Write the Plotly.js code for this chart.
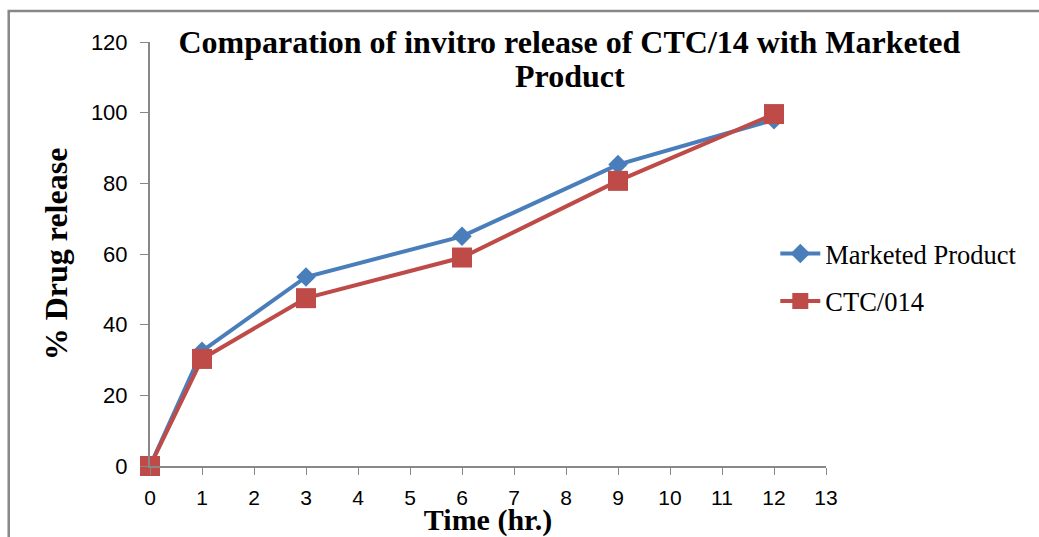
<!DOCTYPE html>
<html>
<head>
<meta charset="utf-8">
<script src="https://cdn.plot.ly/plotly-3.0.1.min.js"></script>
<style>
  html, body { margin: 0; padding: 0; background: #fff; }
  #chart { width: 1039px; height: 537px; }
</style>
</head>
<body>
<div id="chart"></div>
<script>
// Sampling times (hours)
const timeHr = [0, 1, 3, 6, 9, 12];
// Cumulative % drug released
const marketedProduct = [0, 32.5, 53.5, 65, 85.3, 98];
const ctc014 = [0, 30.3, 47.5, 59, 80.7, 99.6];

const seriesNames = ['Marketed Product', 'CTC/014'];
const xTicks = [0,1,2,3,4,5,6,7,8,9,10,11,12,13];
const yTicks = [0,20,40,60,80,100,120];

const blue = '#4a7ebb';
const red = '#be4b48';

const traces = [
  {
    x: timeHr, y: marketedProduct, name: seriesNames[0],
    type: 'scatter', mode: 'lines+markers', legendgroup: 'a', cliponaxis: false,
    line: { color: blue, width: 4 },
    marker: { symbol: 'diamond', size: 15, color: blue }
  },
  {
    x: timeHr, y: ctc014, name: seriesNames[1],
    type: 'scatter', mode: 'lines+markers', legendgroup: 'b', cliponaxis: false,
    line: { color: red, width: 4 },
    marker: { symbol: 'square', size: 20, color: red }
  }
];

const serif = 'Liberation Serif, Times New Roman, serif';
const sans = 'Liberation Sans, Arial, sans-serif';

const layout = {
  width: 1039, height: 537,
  margin: { l: 150, r: 213, t: 42, b: 71, pad: 0 },
  paper_bgcolor: '#fff', plot_bgcolor: '#fff',
  showlegend: true,
  title: {
    text: '<b>Comparation of invitro release of CTC/14 with Marketed</b>',
    font: { family: serif, size: 32, color: '#000' },
    x: 0.548, xanchor: 'center', yref: 'container', y: 0.922, yanchor: 'middle'
  },
  annotations: [
    {
      text: '<b>Product</b>', xref: 'paper', yref: 'paper',
      x: 0.621, y: 0.92, xanchor: 'center', yanchor: 'middle', showarrow: false,
      font: { family: serif, size: 32, color: '#000' }
    }
  ],
  xaxis: {
    range: [0, 13], tickvals: xTicks, ticktext: xTicks.map(String),
    showgrid: false, zeroline: false, showline: true,
    linecolor: '#888', linewidth: 2,
    ticks: 'outside', ticklen: 7, tickcolor: '#888', tickwidth: 1,
    ticklabelstandoff: 5,
    tickfont: { family: sans, size: 21, color: '#000' },
    title: { text: '<b>Time (hr.)</b>', font: { family: serif, size: 30, color: '#000' }, standoff: 4 }
  },
  yaxis: {
    range: [0, 120], tickvals: yTicks, ticktext: yTicks.map(String),
    showgrid: false, zeroline: false, showline: true,
    linecolor: '#888', linewidth: 2,
    ticks: 'outside', ticklen: 8, tickcolor: '#888', tickwidth: 1,
    ticklabelstandoff: 8,
    tickfont: { family: sans, size: 22, color: '#000' },
    title: { text: '<b>% Drug release</b>', font: { family: serif, size: 32, color: '#000' }, standoff: 14 }
  },
  legend: {
    x: 0.925, xanchor: 'left', y: 0.557, yanchor: 'top',
    font: { family: serif, size: 26.5, color: '#000' },
    traceorder: 'grouped', tracegroupgap: 10,
    bgcolor: 'rgba(0,0,0,0)', itemwidth: 40
  },
  shapes: [
    {
      type: 'rect', xref: 'paper', yref: 'paper',
      x0: -0.209, x1: 1.4, y0: -0.3, y1: 1.073,
      line: { color: '#888', width: 2.5 }, fillcolor: 'rgba(0,0,0,0)', layer: 'below'
    }
  ]
};

Plotly.newPlot('chart', traces, layout, { displayModeBar: false, staticPlot: true });
</script>
</body>
</html>
